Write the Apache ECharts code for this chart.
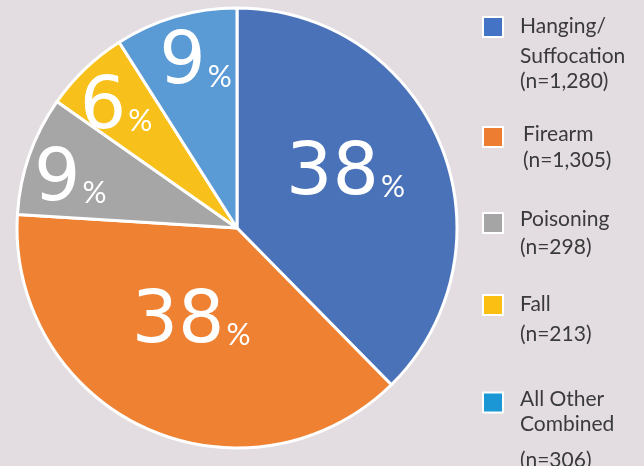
<!DOCTYPE html>
<html>
<head>
<meta charset="utf-8">
<script src="https://cdn.jsdelivr.net/npm/echarts@6/dist/echarts.min.js"></script>
<style>
html,body{margin:0;padding:0;background:#e3dce1;}
#c{width:644px;height:466px;}
</style>
</head>
<body>
<div id="c"></div>
<script>
// ---- data ----
const categories = ['Hanging/Suffocation', 'Firearm', 'Poisoning', 'Fall', 'All Other Combined'];
const counts = [1280, 1305, 298, 213, 306];
const legendLines = [
  ['Hanging/', 'Suffocation', '(n=1,280)'],
  ['Firearm', '(n=1,305)'],
  ['Poisoning', '(n=298)'],
  ['Fall', '(n=213)'],
  ['All Other', 'Combined', '(n=306)']
];

// ---- styles ----
const sliceColors = ['#4a72b8', '#ef8133', '#a6a6a6', '#f8c01a', '#5b9bd5'];
const legendColors = ['#4472c4', '#ed7d31', '#a5a5a5', '#fbbf14', '#1b97d6'];
const labelOffsets = [[4, -10], [1, -8], [-60, -10], [-43, -37], [-10, -55]];
// per legend entry: line heights, top padding, left padding, legend top
const legendCfg = [
  { lh: [32, 28, 22], pt: 49, pl: 12, top: 16 },
  { lh: [26, 26], pt: 21, pl: 15, top: 124 },
  { lh: [28, 28], pt: 21, pl: 12, top: 209 },
  { lh: [30, 29], pt: 28, pl: 12, top: 294 },
  { lh: [26, 23, 50], pt: 67, pl: 12, top: 389 }
];

const legends = categories.map((name, i) => {
  const cfg = legendCfg[i];
  const rich = {};
  cfg.lh.forEach((h, k) => {
    rich['l' + k] = { fontFamily: 'Lato', fontSize: 21, color: '#3a3a3a', lineHeight: h };
  });
  return {
    left: 482,
    top: cfg.top,
    padding: 0,
    orient: 'vertical',
    itemWidth: 20,
    itemHeight: 20,
    icon: 'rect',
    selectedMode: false,
    data: [{ name: name, itemStyle: { color: legendColors[i] } }],
    formatter: () => legendLines[i].map((t, k) => '{l' + k + '|' + t + '}').join('\n'),
    textStyle: {
      fontFamily: 'Lato', fontSize: 21, color: '#3a3a3a',
      padding: [cfg.pt, 0, 0, cfg.pl],
      rich: rich
    }
  };
});

const chart = echarts.init(document.getElementById('c'), null, { renderer: 'canvas' });
chart.setOption({
  backgroundColor: '#e3dce1',
  animation: false,
  legend: legends,
  series: [{
    type: 'pie',
    center: [237, 228],
    radius: 220,
    startAngle: 90,
    clockwise: true,
    avoidLabelOverlap: false,
    minShowLabelAngle: 0,
    labelLayout: { hideOverlap: false },
    emphasis: { disabled: true },
    itemStyle: { borderColor: '#ffffff', borderWidth: 3 },
    labelLine: { show: false },
    label: {
      show: true,
      position: 'inside',
      formatter: p => '{n|' + Math.round(p.percent) + '}{p|%}',
      rich: {
        n: { fontFamily: 'DejaVu Sans', fontWeight: 400, fontSize: 73, color: '#ffffff', lineHeight: 73, verticalAlign: 'bottom' },
        p: { fontFamily: 'Lato', fontWeight: 400, fontSize: 30, color: '#ffffff', lineHeight: 30, verticalAlign: 'bottom', padding: [0, 0, 9, 2] }
      }
    },
    data: categories.map((name, i) => ({
      name: name,
      value: counts[i],
      itemStyle: { color: sliceColors[i] },
      label: { offset: labelOffsets[i] }
    }))
  }]
});
</script>
</body>
</html>
